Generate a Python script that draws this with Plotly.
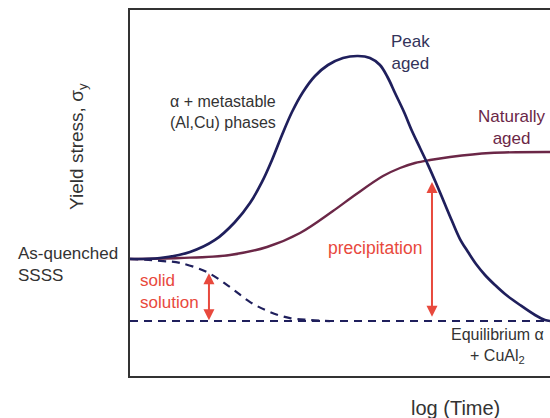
import plotly.graph_objects as go

# log(Time) in arbitrary units (0-10), yield stress in arbitrary units (0-10)
peak_x = [0, 0.714, 1.429, 2.024, 2.5, 2.857, 3.143, 3.381, 3.619, 3.857, 4.119, 4.405, 4.714,
          5.071, 5.429, 5.714, 5.952, 6.143, 6.310, 6.524, 6.714, 6.905, 7.095, 7.286, 7.476,
          7.667, 7.857, 8.048, 8.238, 8.452, 8.690, 8.929, 9.286, 9.643, 9.881, 10.0]
peak_y = [3.197, 3.224, 3.388, 3.716, 4.208, 4.727, 5.301, 5.902, 6.585, 7.213, 7.760, 8.197, 8.497,
          8.689, 8.743, 8.689, 8.497, 8.142, 7.732, 7.213, 6.694, 6.230, 5.770, 5.273, 4.754,
          4.235, 3.743, 3.388, 3.060, 2.760, 2.486, 2.240, 1.940, 1.667, 1.530, 1.503]

nat_x = [0, 1.190, 2.381, 3.262, 4.048, 4.833, 5.357, 6.024, 6.429, 6.786, 7.143, 7.619, 8.571, 10.0]
nat_y = [3.197, 3.224, 3.306, 3.525, 3.907, 4.508, 4.945, 5.464, 5.683, 5.820, 5.902, 5.984, 6.093, 6.120]

ss_x = [0, 0.79, 1.19, 1.83, 2.38, 2.86, 3.33, 3.81, 4.29, 4.76]
ss_y = [3.20, 3.14, 3.09, 2.84, 2.43, 2.02, 1.75, 1.58, 1.53, 1.50]

eq_x = [0, 10]
eq_y = [1.50, 1.50]

NAVY = "#1f1f5c"
MAROON = "#6b2747"
RED = "#e8493d"
TXT = "#333333"

fig = go.Figure()
fig.add_trace(go.Scatter(x=eq_x, y=eq_y, mode="lines",
                         line=dict(color=NAVY, width=2, dash="8px,6px"), hoverinfo="skip"))
fig.add_trace(go.Scatter(x=ss_x, y=ss_y, mode="lines", line_shape="spline",
                         line=dict(color=NAVY, width=2.2, dash="8px,6px"), hoverinfo="skip"))
fig.add_trace(go.Scatter(x=nat_x, y=nat_y, mode="lines", line_shape="spline",
                         line=dict(color=MAROON, width=2.4), hoverinfo="skip"))
fig.add_trace(go.Scatter(x=peak_x, y=peak_y, mode="lines", line_shape="spline",
                         line=dict(color=NAVY, width=2.7), hoverinfo="skip"))

FONT = "Liberation Sans, Arial, sans-serif"

def txt(x, y, s, size=17, color=TXT, xanchor="center", align="center", angle=0, ref="data"):
    r = ("x", "y") if ref == "data" else ("paper", "paper")
    fig.add_annotation(x=x, y=y, xref=r[0], yref=r[1], text=s, showarrow=False,
                       font=dict(family=FONT, size=size, color=color),
                       xanchor=xanchor, yanchor="middle", align=align, textangle=angle)

def darrow(x, y0, y1):
    fig.add_annotation(x=x, y=y1, ax=x, ay=y0, xref="x", yref="y", axref="x", ayref="y",
                       text="", showarrow=True, arrowhead=2, arrowsize=1.1,
                       arrowwidth=2, arrowcolor=RED, arrowside="end+start")

darrow(1.88, 1.48, 2.81)
darrow(7.19, 1.58, 5.30)

txt(-0.1238, 0.626, "Yield stress, σ<sub>y</sub>", size=19, angle=-90, ref="paper")
txt(-0.2714, 0.306, "As-quenched<br>SSSS", size=17, xanchor="left", align="left", ref="paper")
txt(0.776, -0.087, "log (Time)", size=20, ref="paper")
txt(0.90, 7.21, "α + metastable<br>(Al,Cu) phases", size=16, xanchor="left", align="left")
txt(6.67, 8.83, "Peak<br>aged", size=17, color="#33335a")
txt(9.10, 6.78, "Naturally<br>aged", size=17, color=MAROON)
txt(0.19, 2.32, "solid<br>solution", size=17, color=RED, xanchor="left", align="left")
txt(5.83, 3.50, "precipitation", size=17.5, color=RED)
txt(8.74, 0.82, "Equilibrium α<br>+ CuAl<sub>2</sub>", size=16)

fig.update_layout(
    width=550, height=418,
    margin=dict(l=130, r=0, t=10, b=42),
    paper_bgcolor="white", plot_bgcolor="white",
    showlegend=False,
    xaxis=dict(range=[0, 10], showgrid=False, zeroline=False, showticklabels=False, ticks="",
               showline=True, linecolor="#333333", linewidth=2, mirror=True),
    yaxis=dict(range=[0, 10], showgrid=False, zeroline=False, showticklabels=False, ticks="",
               showline=True, linecolor="#333333", linewidth=2, mirror=False),
)

fig.write_html("out.html", config={"displayModeBar": False},
               post_script="document.body.style.margin='0';")
